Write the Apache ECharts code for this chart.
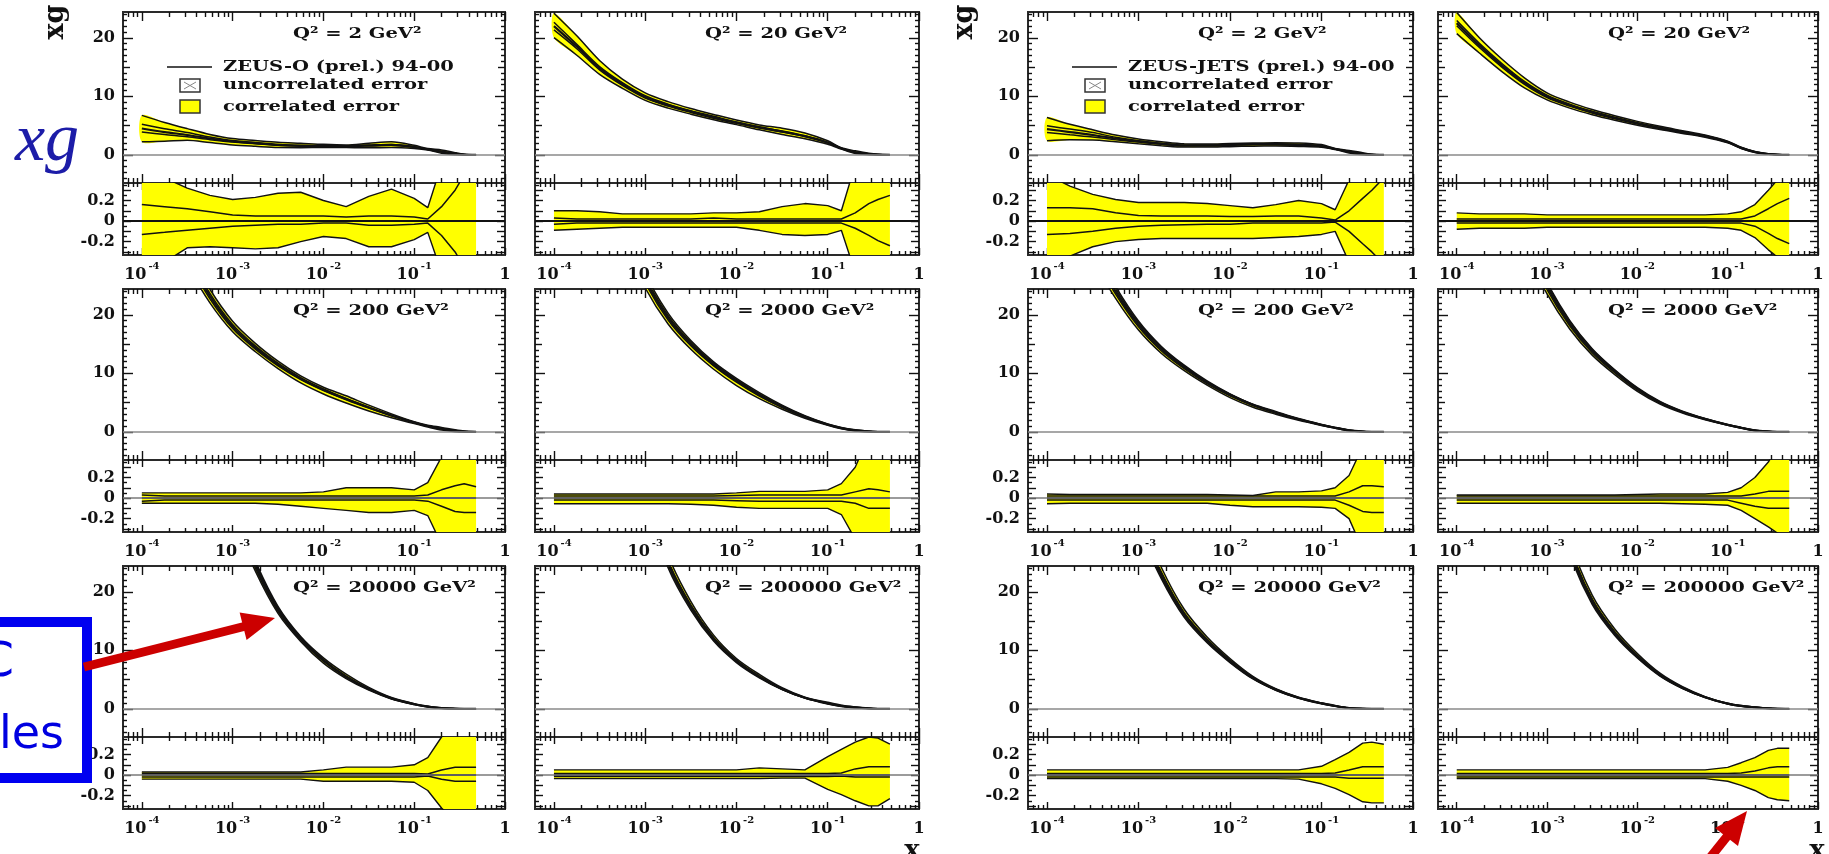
<!DOCTYPE html>
<html>
<head>
<meta charset="utf-8">
<title>ZEUS gluon distributions xg</title>
<script src="https://cdn.jsdelivr.net/npm/echarts@6.0.0/dist/echarts.min.js"></script>
<style>
  html, body { margin: 0; padding: 0; background: #ffffff; }
  #chart { width: 1829px; height: 854px; }
</style>
</head>
<body>
<div id="chart"></div>
<script>
// ---- x sampling points shared by every panel ----
const xPoints = [1e-4, 1.78e-4, 3.16e-4, 5.62e-4, 1e-3, 1.78e-3, 3.16e-3, 5.62e-3, 1e-2, 1.78e-2, 3.16e-2, 5.62e-2, 0.1, 0.141, 0.2, 0.282, 0.355, 0.48];

// ---- tick labels: [mantissa, exponent] ----
const xTickValues = [1e-4, 1e-3, 1e-2, 1e-1, 1];
const xTickLabels = [['10', '-4'], ['10', '-3'], ['10', '-2'], ['10', '-1'], ['1', '']];
const yTopLabels = [0, 10, 20];
const yRatioLabels = [-0.2, 0, 0.2];

const fitNames = { O: 'ZEUS-O (prel.) 94-00', J: 'ZEUS-JETS (prel.) 94-00' };

// ---- ZEUS-O fit: xg and fractional errors ----
const xgO2      = [4.5, 3.9, 3.4, 2.8, 2.3, 2.0, 1.7, 1.55, 1.5, 1.5, 1.6, 1.7, 1.35, 0.95, 0.55, 0.2, 0.06, 0.0];
const corrHiO2  = [0.5, 0.42, 0.32, 0.25, 0.21, 0.23, 0.27, 0.28, 0.2, 0.14, 0.24, 0.31, 0.22, 0.13, 0.55, 0.9, 1.0, 1.0];
const corrLoO2  = [-0.5, -0.4, -0.26, -0.25, -0.26, -0.27, -0.26, -0.2, -0.15, -0.17, -0.25, -0.25, -0.18, -0.11, -0.5, -0.9, -1.0, -1.0];
const uncHiO2   = [0.16, 0.14, 0.12, 0.09, 0.06, 0.05, 0.05, 0.05, 0.05, 0.04, 0.05, 0.05, 0.04, 0.02, 0.14, 0.3, 0.45, 0.6];
const uncLoO2   = [-0.13, -0.11, -0.09, -0.07, -0.05, -0.04, -0.03, -0.03, -0.02, -0.02, -0.04, -0.04, -0.03, -0.02, -0.14, -0.3, -0.45, -0.6];

const xgO20     = [22, 18.5, 14.8, 12.1, 9.9, 8.5, 7.4, 6.4, 5.5, 4.7, 4.0, 3.2, 2.1, 1.1, 0.45, 0.15, 0.05, 0.01];
const corrHiO20 = [0.1, 0.1, 0.09, 0.07, 0.07, 0.07, 0.07, 0.08, 0.08, 0.09, 0.14, 0.17, 0.15, 0.1, 0.55, 0.8, 0.9, 1.0];
const corrLoO20 = [-0.09, -0.08, -0.07, -0.06, -0.06, -0.06, -0.06, -0.06, -0.06, -0.09, -0.13, -0.14, -0.13, -0.09, -0.5, -0.8, -0.9, -1.0];
const uncHiO20  = [0.03, 0.02, 0.02, 0.02, 0.02, 0.02, 0.02, 0.03, 0.02, 0.02, 0.02, 0.02, 0.02, 0.02, 0.08, 0.17, 0.21, 0.25];
const uncLoO20  = [-0.03, -0.02, -0.02, -0.02, -0.02, -0.02, -0.02, -0.02, -0.02, -0.02, -0.02, -0.02, -0.02, -0.02, -0.07, -0.14, -0.19, -0.24];

const xgO200     = [48, 38, 30, 23.2, 18, 14.4, 11.5, 9.1, 7.2, 5.6, 4.15, 2.8, 1.6, 1.0, 0.55, 0.2, 0.07, 0.01];
const corrHiO200 = [0.05, 0.05, 0.05, 0.05, 0.05, 0.05, 0.05, 0.05, 0.06, 0.1, 0.1, 0.1, 0.08, 0.15, 0.4, 0.8, 1.0, 1.0];
const corrLoO200 = [-0.05, -0.05, -0.05, -0.05, -0.05, -0.05, -0.06, -0.08, -0.1, -0.12, -0.14, -0.14, -0.12, -0.17, -0.45, -0.8, -1.0, -1.0];
const uncHiO200  = [0.03, 0.02, 0.02, 0.02, 0.02, 0.02, 0.02, 0.02, 0.02, 0.02, 0.02, 0.02, 0.02, 0.03, 0.08, 0.12, 0.14, 0.11];
const uncLoO200  = [-0.03, -0.02, -0.02, -0.02, -0.02, -0.02, -0.02, -0.02, -0.02, -0.02, -0.02, -0.02, -0.02, -0.03, -0.08, -0.13, -0.14, -0.14];

const xgO2000     = [80, 62, 47, 35, 26, 19.5, 15.0, 11.5, 8.7, 6.3, 4.3, 2.6, 1.25, 0.65, 0.27, 0.08, 0.02, 0.0];
const corrHiO2000 = [0.04, 0.04, 0.04, 0.04, 0.04, 0.04, 0.04, 0.04, 0.05, 0.065, 0.065, 0.065, 0.08, 0.14, 0.3, 0.6, 1.0, 1.0];
const corrLoO2000 = [-0.055, -0.055, -0.055, -0.055, -0.055, -0.055, -0.06, -0.07, -0.09, -0.1, -0.1, -0.1, -0.1, -0.16, -0.4, -0.8, -1.0, -1.0];
const uncHiO2000  = [0.02, 0.02, 0.02, 0.02, 0.02, 0.02, 0.02, 0.02, 0.025, 0.03, 0.03, 0.03, 0.03, 0.03, 0.06, 0.09, 0.08, 0.06];
const uncLoO2000  = [-0.02, -0.02, -0.02, -0.02, -0.02, -0.02, -0.02, -0.02, -0.025, -0.03, -0.03, -0.03, -0.03, -0.03, -0.05, -0.1, -0.1, -0.1];

const xgO20000     = [110, 85, 65, 48, 34, 24.5, 17, 12, 8.3, 5.5, 3.4, 1.8, 0.8, 0.4, 0.14, 0.04, 0.01, 0.0];
const corrHiO20000 = [0.03, 0.03, 0.03, 0.03, 0.03, 0.03, 0.03, 0.03, 0.05, 0.077, 0.077, 0.077, 0.1, 0.17, 0.37, 0.45, 0.5, 0.5];
const corrLoO20000 = [-0.04, -0.04, -0.04, -0.04, -0.04, -0.04, -0.04, -0.04, -0.06, -0.06, -0.06, -0.06, -0.07, -0.15, -0.32, -0.45, -0.5, -0.5];
const uncHiO20000  = [0.015, 0.015, 0.015, 0.015, 0.015, 0.015, 0.015, 0.015, 0.015, 0.015, 0.015, 0.015, 0.015, 0.01, 0.05, 0.075, 0.077, 0.077];
const uncLoO20000  = [-0.02, -0.02, -0.02, -0.02, -0.02, -0.02, -0.02, -0.02, -0.02, -0.02, -0.02, -0.02, -0.02, -0.01, -0.04, -0.06, -0.06, -0.06];

const xgO200000     = [150, 110, 78, 54, 37, 25, 17.5, 12, 8.2, 5.5, 3.4, 1.9, 0.95, 0.5, 0.25, 0.08, 0.02, 0.0];
const corrHiO200000 = [0.05, 0.05, 0.05, 0.05, 0.05, 0.05, 0.05, 0.05, 0.05, 0.07, 0.06, 0.05, 0.18, 0.25, 0.32, 0.37, 0.36, 0.3];
const corrLoO200000 = [-0.035, -0.035, -0.035, -0.035, -0.035, -0.035, -0.035, -0.035, -0.035, -0.035, -0.03, -0.03, -0.14, -0.19, -0.25, -0.3, -0.3, -0.23];
const uncHiO200000  = [0.015, 0.015, 0.015, 0.015, 0.015, 0.015, 0.015, 0.015, 0.015, 0.015, 0.015, 0.015, 0.015, 0.02, 0.06, 0.08, 0.08, 0.08];
const uncLoO200000  = [-0.015, -0.015, -0.015, -0.015, -0.015, -0.015, -0.015, -0.015, -0.015, -0.015, -0.015, -0.015, -0.015, -0.01, -0.02, -0.02, -0.02, -0.02];

// ---- ZEUS-JETS fit: xg and fractional errors ----
const xgJ2      = [4.4, 3.9, 3.4, 2.8, 2.3, 1.9, 1.6, 1.6, 1.7, 1.8, 1.8, 1.7, 1.5, 1.0, 0.55, 0.2, 0.05, 0.0];
const corrHiJ2  = [0.45, 0.34, 0.26, 0.21, 0.18, 0.18, 0.18, 0.17, 0.15, 0.13, 0.16, 0.2, 0.17, 0.11, 0.4, 0.8, 1.0, 1.0];
const corrLoJ2  = [-0.45, -0.34, -0.25, -0.2, -0.18, -0.17, -0.17, -0.17, -0.17, -0.17, -0.16, -0.15, -0.13, -0.1, -0.4, -0.8, -1.0, -1.0];
const uncHiJ2   = [0.13, 0.13, 0.12, 0.08, 0.055, 0.05, 0.05, 0.05, 0.045, 0.045, 0.05, 0.05, 0.03, 0.01, 0.1, 0.22, 0.3, 0.42];
const uncLoJ2   = [-0.13, -0.12, -0.1, -0.07, -0.05, -0.04, -0.035, -0.03, -0.03, -0.02, -0.02, -0.02, -0.02, -0.01, -0.1, -0.22, -0.3, -0.42];

const xgJ20     = [22.5, 18.7, 15.3, 12.3, 10.0, 8.5, 7.3, 6.3, 5.4, 4.6, 3.9, 3.2, 2.2, 1.2, 0.5, 0.15, 0.05, 0.01];
const corrHiJ20 = [0.08, 0.07, 0.07, 0.07, 0.06, 0.06, 0.06, 0.06, 0.06, 0.06, 0.06, 0.06, 0.07, 0.09, 0.16, 0.3, 0.4, 0.5];
const corrLoJ20 = [-0.08, -0.07, -0.07, -0.07, -0.06, -0.06, -0.06, -0.06, -0.06, -0.06, -0.06, -0.06, -0.07, -0.09, -0.16, -0.28, -0.35, -0.45];
const uncHiJ20  = [0.02, 0.02, 0.02, 0.02, 0.02, 0.02, 0.02, 0.02, 0.02, 0.02, 0.02, 0.02, 0.02, 0.02, 0.05, 0.12, 0.17, 0.22];
const uncLoJ20  = [-0.02, -0.02, -0.02, -0.02, -0.02, -0.02, -0.02, -0.02, -0.02, -0.02, -0.02, -0.02, -0.02, -0.02, -0.05, -0.12, -0.17, -0.22];

const xgJ200     = [50, 40, 31, 24, 18.3, 14.1, 11.0, 8.4, 6.3, 4.6, 3.3, 2.15, 1.2, 0.7, 0.27, 0.07, 0.02, 0.0];
const corrHiJ200 = [0.04, 0.035, 0.035, 0.035, 0.035, 0.035, 0.035, 0.035, 0.03, 0.025, 0.06, 0.06, 0.07, 0.1, 0.22, 0.5, 0.9, 1.0];
const corrLoJ200 = [-0.055, -0.05, -0.05, -0.05, -0.05, -0.05, -0.05, -0.05, -0.07, -0.085, -0.085, -0.085, -0.09, -0.1, -0.2, -0.5, -0.9, -1.0];
const uncHiJ200  = [0.02, 0.02, 0.02, 0.02, 0.02, 0.02, 0.02, 0.02, 0.02, 0.02, 0.02, 0.02, 0.02, 0.02, 0.06, 0.12, 0.12, 0.11];
const uncLoJ200  = [-0.02, -0.02, -0.02, -0.02, -0.02, -0.02, -0.02, -0.02, -0.02, -0.02, -0.02, -0.02, -0.02, -0.02, -0.07, -0.13, -0.14, -0.14];

const xgJ2000     = [80, 62, 46, 33, 24.8, 18.5, 13.8, 10.3, 7.3, 5.0, 3.4, 2.2, 1.2, 0.7, 0.25, 0.07, 0.02, 0.0];
const corrHiJ2000 = [0.03, 0.03, 0.03, 0.03, 0.03, 0.03, 0.03, 0.03, 0.035, 0.04, 0.04, 0.04, 0.055, 0.1, 0.2, 0.35, 0.5, 0.7];
const corrLoJ2000 = [-0.05, -0.05, -0.05, -0.05, -0.05, -0.05, -0.05, -0.05, -0.05, -0.05, -0.055, -0.06, -0.07, -0.12, -0.2, -0.28, -0.34, -0.45];
const uncHiJ2000  = [0.02, 0.02, 0.02, 0.02, 0.02, 0.02, 0.02, 0.02, 0.02, 0.02, 0.02, 0.02, 0.02, 0.02, 0.04, 0.065, 0.065, 0.065];
const uncLoJ2000  = [-0.02, -0.02, -0.02, -0.02, -0.02, -0.02, -0.02, -0.02, -0.02, -0.02, -0.02, -0.02, -0.02, -0.05, -0.08, -0.1, -0.1, -0.1];

const xgJ20000     = [110, 85, 62, 44, 32, 23, 16.2, 11.7, 8.2, 5.3, 3.3, 1.9, 0.95, 0.5, 0.15, 0.04, 0.01, 0.0];
const corrHiJ20000 = [0.05, 0.05, 0.05, 0.05, 0.05, 0.05, 0.05, 0.05, 0.05, 0.05, 0.05, 0.05, 0.085, 0.15, 0.22, 0.31, 0.32, 0.3];
const corrLoJ20000 = [-0.035, -0.035, -0.035, -0.035, -0.035, -0.035, -0.035, -0.035, -0.035, -0.035, -0.035, -0.04, -0.085, -0.13, -0.19, -0.26, -0.27, -0.27];
const uncHiJ20000  = [0.015, 0.015, 0.015, 0.015, 0.015, 0.015, 0.015, 0.015, 0.015, 0.015, 0.015, 0.015, 0.015, 0.02, 0.05, 0.08, 0.08, 0.08];
const uncLoJ20000  = [-0.02, -0.02, -0.02, -0.02, -0.02, -0.02, -0.02, -0.02, -0.02, -0.02, -0.02, -0.02, -0.02, -0.02, -0.03, -0.03, -0.03, -0.03];

const xgJ200000     = [170, 125, 90, 63, 42, 27.5, 18.5, 13, 9.0, 5.8, 3.6, 2.0, 0.9, 0.5, 0.28, 0.1, 0.03, 0.0];
const corrHiJ200000 = [0.05, 0.05, 0.05, 0.05, 0.05, 0.05, 0.05, 0.05, 0.05, 0.05, 0.05, 0.05, 0.075, 0.12, 0.17, 0.24, 0.26, 0.26];
const corrLoJ200000 = [-0.035, -0.035, -0.035, -0.035, -0.035, -0.035, -0.035, -0.035, -0.035, -0.035, -0.035, -0.035, -0.06, -0.1, -0.15, -0.22, -0.24, -0.25];
const uncHiJ200000  = [0.015, 0.015, 0.015, 0.015, 0.015, 0.015, 0.015, 0.015, 0.015, 0.015, 0.015, 0.015, 0.015, 0.02, 0.04, 0.07, 0.08, 0.08];
const uncLoJ200000  = [-0.02, -0.02, -0.02, -0.02, -0.02, -0.02, -0.02, -0.02, -0.02, -0.02, -0.02, -0.02, -0.02, -0.02, -0.02, -0.02, -0.02, -0.02];

// ---- panel arrangement: 3 rows x 4 columns ----
const panels = [
  { row: 0, col: 0, fit: 'O', q2: 2,      xg: xgO2,      corrHi: corrHiO2,      corrLo: corrLoO2,      uncHi: uncHiO2,      uncLo: uncLoO2 },
  { row: 0, col: 1, fit: 'O', q2: 20,     xg: xgO20,     corrHi: corrHiO20,     corrLo: corrLoO20,     uncHi: uncHiO20,     uncLo: uncLoO20 },
  { row: 0, col: 2, fit: 'J', q2: 2,      xg: xgJ2,      corrHi: corrHiJ2,      corrLo: corrLoJ2,      uncHi: uncHiJ2,      uncLo: uncLoJ2 },
  { row: 0, col: 3, fit: 'J', q2: 20,     xg: xgJ20,     corrHi: corrHiJ20,     corrLo: corrLoJ20,     uncHi: uncHiJ20,     uncLo: uncLoJ20 },
  { row: 1, col: 0, fit: 'O', q2: 200,    xg: xgO200,    corrHi: corrHiO200,    corrLo: corrLoO200,    uncHi: uncHiO200,    uncLo: uncLoO200 },
  { row: 1, col: 1, fit: 'O', q2: 2000,   xg: xgO2000,   corrHi: corrHiO2000,   corrLo: corrLoO2000,   uncHi: uncHiO2000,   uncLo: uncLoO2000 },
  { row: 1, col: 2, fit: 'J', q2: 200,    xg: xgJ200,    corrHi: corrHiJ200,    corrLo: corrLoJ200,    uncHi: uncHiJ200,    uncLo: uncLoJ200 },
  { row: 1, col: 3, fit: 'J', q2: 2000,   xg: xgJ2000,   corrHi: corrHiJ2000,   corrLo: corrLoJ2000,   uncHi: uncHiJ2000,   uncLo: uncLoJ2000 },
  { row: 2, col: 0, fit: 'O', q2: 20000,  xg: xgO20000,  corrHi: corrHiO20000,  corrLo: corrLoO20000,  uncHi: uncHiO20000,  uncLo: uncLoO20000 },
  { row: 2, col: 1, fit: 'O', q2: 200000, xg: xgO200000, corrHi: corrHiO200000, corrLo: corrLoO200000, uncHi: uncHiO200000, uncLo: uncLoO200000 },
  { row: 2, col: 2, fit: 'J', q2: 20000,  xg: xgJ20000,  corrHi: corrHiJ20000,  corrLo: corrLoJ20000,  uncHi: uncHiJ20000,  uncLo: uncLoJ20000 },
  { row: 2, col: 3, fit: 'J', q2: 200000, xg: xgJ200000, corrHi: corrHiJ200000, corrLo: corrLoJ200000, uncHi: uncHiJ200000, uncLo: uncLoJ200000 }
];

// ---- layout ----
const colLeft = [123, 535, 1028, 1438];
const colWidth = [382, 384, 385, 380];
const rowTop = [12, 289, 566];
const topH = 171, ratioH = 72;

const LX_MIN = Math.log10(6.2e-5);
const LX_MAX = 0;
const TOP_RANGE = [-4.8, 24.4];
const RATIO_RANGE = [-0.33, 0.37];

const YELLOW = '#ffff00';
const INK = '#111111';
const SERIF = '"DejaVu Serif", "Liberation Serif", serif';
const SMOOTH = 0.3;

// tick positions on the log10(x) scale
const lx = xPoints.map(v => Math.log10(v));
const xMajor = xTickValues.map(v => Math.log10(v));
const xMinor = [];
for (let n = -5; n <= -1; n++) {
  for (let k = 2; k <= 9; k++) {
    const v = n + Math.log10(k);
    if (v > LX_MIN && v < LX_MAX) xMinor.push(v);
  }
}
const yTopMajor = [0, 10, 20];
const yTopMid = [5, 15];
const yTopMinor = [];
for (let v = -4; v <= 24; v++) if (v % 5 !== 0) yTopMinor.push(v);
const yRatioMajor = [-0.3, -0.2, -0.1, 0, 0.1, 0.2, 0.3];
const yRatioMinor = [-0.25, -0.15, -0.05, 0.05, 0.15, 0.25, 0.35];

const grids = [], xAxes = [], yAxes = [], series = [], graphics = [];
const tickLine = { color: INK, width: 1.4 };
const labelFont = { fontFamily: SERIF, fontWeight: 'bold', fontSize: 16, color: INK };

function addGrid(left, top, width, height) {
  grids.push({
    left, top, width, height, show: true,
    borderColor: '#2a2a2a', borderWidth: 2, backgroundColor: 'transparent',
    containLabel: false, outerBoundsMode: 'none'
  });
  return grids.length - 1;
}

function addAxis(kind, gridIndex, position, range, ticks, len, label) {
  const axis = {
    type: 'value', gridIndex, position, min: range[0], max: range[1],
    axisLine: { show: false, onZero: false },
    splitLine: { show: false },
    axisTick: { show: ticks.length > 0, inside: true, length: len, customValues: ticks, lineStyle: tickLine },
    axisLabel: label || { show: false }
  };
  if (kind === 'x') { xAxes.push(axis); return xAxes.length - 1; }
  yAxes.push(axis); return yAxes.length - 1;
}

function xLabel() {
  return {
    show: true, customValues: xMajor, margin: 6,
    formatter: v => {
      const i = xMajor.findIndex(t => Math.abs(t - v) < 1e-6);
      if (i < 0) return '';
      const [m, e] = xTickLabels[i];
      return e ? '{b|' + m + '}{e|' + e + '}' : '{b|' + m + '}';
    },
    rich: {
      b: { fontFamily: SERIF, fontWeight: 'bold', fontSize: 16, color: INK, lineHeight: 22, verticalAlign: 'bottom' },
      e: { fontFamily: SERIF, fontWeight: 'bold', fontSize: 10, color: INK, lineHeight: 12, verticalAlign: 'top', padding: [0, 0, 0, 2] }
    }
  };
}
function yLabel(values) {
  return Object.assign({ show: true, customValues: values, margin: 8, formatter: v => String(v) }, labelFont);
}

function buildAxes(g, range, isRatio, withYLabels) {
  const xMajLen = isRatio ? 7 : 9, xMinLen = isRatio ? 4 : 5;
  const xi = addAxis('x', g, 'bottom', [LX_MIN, LX_MAX], xMajor, xMajLen, isRatio ? xLabel() : null);
  addAxis('x', g, 'bottom', [LX_MIN, LX_MAX], xMinor, xMinLen, null);
  addAxis('x', g, 'top', [LX_MIN, LX_MAX], xMajor, xMajLen, null);
  addAxis('x', g, 'top', [LX_MIN, LX_MAX], xMinor, xMinLen, null);
  let yi;
  ['left', 'right'].forEach(side => {
    const lab = (side === 'left' && withYLabels) ? yLabel(isRatio ? yRatioLabels : yTopLabels) : null;
    let a;
    if (isRatio) {
      a = addAxis('y', g, side, range, yRatioMajor, 8, lab);
      addAxis('y', g, side, range, yRatioMinor, 4, null);
    } else {
      a = addAxis('y', g, side, range, yTopMajor, 10, lab);
      addAxis('y', g, side, range, yTopMid, 7, null);
      addAxis('y', g, side, range, yTopMinor, 4, null);
    }
    if (side === 'left') yi = a;
  });
  return { xi, yi };
}

// filled error band between two curves, drawn as one clipped polygon
function bandSeries(ax, lo, hi, color, smooth) {
  return {
    type: 'custom', xAxisIndex: ax.xi, yAxisIndex: ax.yi, silent: true, z: 1,
    data: lx.map((x, i) => [x, lo[i], hi[i]]),
    encode: { x: 0, y: [1, 2] },
    renderItem(params, api) {
      if (params.dataIndexInside !== 0) return null;
      const n = params.dataInsideLength;
      const upper = [], lower = [];
      for (let i = 0; i < n; i++) {
        upper.push(api.coord([api.value(0, i), api.value(2, i)]));
        lower.push(api.coord([api.value(0, i), api.value(1, i)]));
      }
      const cs = params.coordSys;
      return {
        type: 'polygon',
        shape: { points: upper.concat(lower.reverse()), smooth: smooth },
        style: { fill: color, stroke: null },
        clipPath: { type: 'rect', shape: { x: cs.x, y: cs.y, width: cs.width, height: cs.height } }
      };
    }
  };
}

function lineSeries(ax, values, width, smooth, z) {
  return {
    type: 'line', xAxisIndex: ax.xi, yAxisIndex: ax.yi, silent: true,
    data: lx.map((x, i) => [x, values[i]]),
    symbol: 'none', smooth: smooth, clip: true, z: z || 3,
    lineStyle: { color: INK, width: width }
  };
}

function zeroLine(ax, color, width) {
  return {
    type: 'line', xAxisIndex: ax.xi, yAxisIndex: ax.yi, silent: true, data: [], z: 2,
    markLine: {
      silent: true, symbol: 'none', label: { show: false },
      lineStyle: { color: color, width: width, type: 'solid' },
      data: [{ yAxis: 0 }]
    }
  };
}

panels.forEach(p => {
  const L = colLeft[p.col], W = colWidth[p.col], T = rowTop[p.row];
  const withYLabels = (p.col === 0 || p.col === 2);

  // upper panel: xg with its error bands
  const gTop = addGrid(L, T, W, topH);
  const axTop = buildAxes(gTop, TOP_RANGE, false, withYLabels);
  const corrLoAbs = p.xg.map((v, i) => v * (1 + p.corrLo[i]));
  const corrHiAbs = p.xg.map((v, i) => v * (1 + p.corrHi[i]));
  const uncLoAbs = p.xg.map((v, i) => v * (1 + p.uncLo[i]));
  const uncHiAbs = p.xg.map((v, i) => v * (1 + p.uncHi[i]));
  series.push(zeroLine(axTop, '#8a8a8a', 1.6));
  series.push(bandSeries(axTop, corrLoAbs, corrHiAbs, YELLOW, SMOOTH));
  series.push(lineSeries(axTop, corrLoAbs, 1.5, SMOOTH));
  series.push(lineSeries(axTop, corrHiAbs, 1.5, SMOOTH));
  series.push(lineSeries(axTop, uncLoAbs, 1.5, SMOOTH));
  series.push(lineSeries(axTop, uncHiAbs, 1.5, SMOOTH));
  series.push(lineSeries(axTop, p.xg, 2.2, SMOOTH, 4));

  // lower panel: fractional errors
  const gRat = addGrid(L, T + topH, W, ratioH);
  const axRat = buildAxes(gRat, RATIO_RANGE, true, withYLabels);
  series.push(zeroLine(axRat, p.row === 0 ? INK : '#7a7a7a', p.row === 0 ? 2.2 : 1.5));
  series.push(bandSeries(axRat, p.corrLo, p.corrHi, YELLOW, 0));
  series.push(lineSeries(axRat, p.corrLo, 1.4, false));
  series.push(lineSeries(axRat, p.corrHi, 1.4, false));
  series.push(lineSeries(axRat, p.uncLo, 1.5, false));
  series.push(lineSeries(axRat, p.uncHi, 1.5, false));
  series.push(lineSeries(axRat, lx.map(() => 0), 2, false, 4));

  // Q^2 label
  graphics.push({
    type: 'text', x: L + 170, y: T + 22, scaleX: 1.3, z: 50,
    style: { text: 'Q\u00B2 = ' + p.q2 + ' GeV\u00B2', font: 'bold 15px ' + SERIF, fill: INK,
             align: 'left', verticalAlign: 'middle', textAlign: 'left', textVerticalAlign: 'middle' }
  });

  // legend in the first panel of each fit
  if (p.row === 0 && (p.col === 0 || p.col === 2)) {
    const txt = (s, y) => ({
      type: 'text', x: L + 100, y: T + y, scaleX: 1.3, z: 50,
      style: { text: s, font: 'bold 15px ' + SERIF, fill: INK,
               align: 'left', verticalAlign: 'middle', textAlign: 'left', textVerticalAlign: 'middle' }
    });
    graphics.push({ type: 'line', z: 50, shape: { x1: L + 44, y1: T + 55, x2: L + 89, y2: T + 55 }, style: { stroke: INK, lineWidth: 1.5 } });
    graphics.push(txt(fitNames[p.fit], 55));
    graphics.push({ type: 'rect', z: 50, shape: { x: L + 57, y: T + 67, width: 20, height: 13 }, style: { fill: '#ffffff', stroke: '#333', lineWidth: 1.5 } });
    graphics.push({ type: 'line', z: 51, shape: { x1: L + 61, y1: T + 70, x2: L + 73, y2: T + 77 }, style: { stroke: '#888', lineWidth: 1 } });
    graphics.push({ type: 'line', z: 51, shape: { x1: L + 61, y1: T + 77, x2: L + 73, y2: T + 70 }, style: { stroke: '#888', lineWidth: 1 } });
    graphics.push(txt('uncorrelated error', 73));
    graphics.push({ type: 'rect', z: 50, shape: { x: L + 57, y: T + 88, width: 20, height: 13 }, style: { fill: YELLOW, stroke: '#333', lineWidth: 1.5 } });
    graphics.push(txt('correlated error', 95));
  }
});

// y-axis titles
[[56, 22], [965, 22]].forEach(([x, y]) => {
  graphics.push({
    type: 'text', x, y, rotation: Math.PI / 2, z: 50,
    style: { text: 'xg', font: 'bold 27px ' + SERIF, fill: INK,
             align: 'center', verticalAlign: 'middle', textAlign: 'center', textVerticalAlign: 'middle' }
  });
});
// x-axis titles
[912, 1817].forEach(x => {
  graphics.push({
    type: 'text', x, y: 851, z: 50,
    style: { text: 'x', font: 'bold 26px ' + SERIF, fill: INK,
             align: 'center', verticalAlign: 'middle', textAlign: 'center', textVerticalAlign: 'middle' }
  });
});

// blue handwritten note and pointers
graphics.push({
  type: 'text', x: 47, y: 142, z: 60,
  style: { text: 'xg', font: 'italic 68px "Liberation Serif", serif', fill: '#1c1ca8',
           align: 'center', verticalAlign: 'middle', textAlign: 'center', textVerticalAlign: 'middle' }
});
graphics.push({ type: 'rect', z: 60, shape: { x: -60, y: 622, width: 147, height: 156 }, style: { fill: 'rgba(0,0,0,0)', stroke: '#0000f0', lineWidth: 10 } });
graphics.push({
  type: 'text', x: 14, y: 664, z: 60,
  style: { text: 'C', font: '48px "DejaVu Sans", sans-serif', fill: '#0000e0',
           align: 'right', verticalAlign: 'middle', textAlign: 'right', textVerticalAlign: 'middle' }
});
graphics.push({
  type: 'text', x: -1, y: 736, z: 60,
  style: { text: 'les', font: '46px "DejaVu Sans", sans-serif', fill: '#0000e0',
           align: 'left', verticalAlign: 'middle', textAlign: 'left', textVerticalAlign: 'middle' }
});
// red arrows
graphics.push({ type: 'line', z: 61, shape: { x1: 84, y1: 667, x2: 246, y2: 626 }, style: { stroke: '#cc0000', lineWidth: 9 } });
graphics.push({ type: 'polygon', z: 61, shape: { points: [[275, 618], [246.6, 640], [239.6, 612.6]] }, style: { fill: '#cc0000' } });
graphics.push({ type: 'line', z: 61, shape: { x1: 1697, y1: 874, x2: 1729, y2: 834 }, style: { stroke: '#cc0000', lineWidth: 9 } });
graphics.push({ type: 'polygon', z: 61, shape: { points: [[1747, 811], [1738, 846], [1715, 828]] }, style: { fill: '#cc0000' } });

const chart = echarts.init(document.getElementById('chart'), null, { renderer: 'canvas' });
chart.setOption({
  animation: false,
  backgroundColor: '#ffffff',
  textStyle: { fontFamily: SERIF },
  grid: grids,
  xAxis: xAxes,
  yAxis: yAxes,
  series: series,
  graphic: { elements: graphics }
});
</script>
</body>
</html>
